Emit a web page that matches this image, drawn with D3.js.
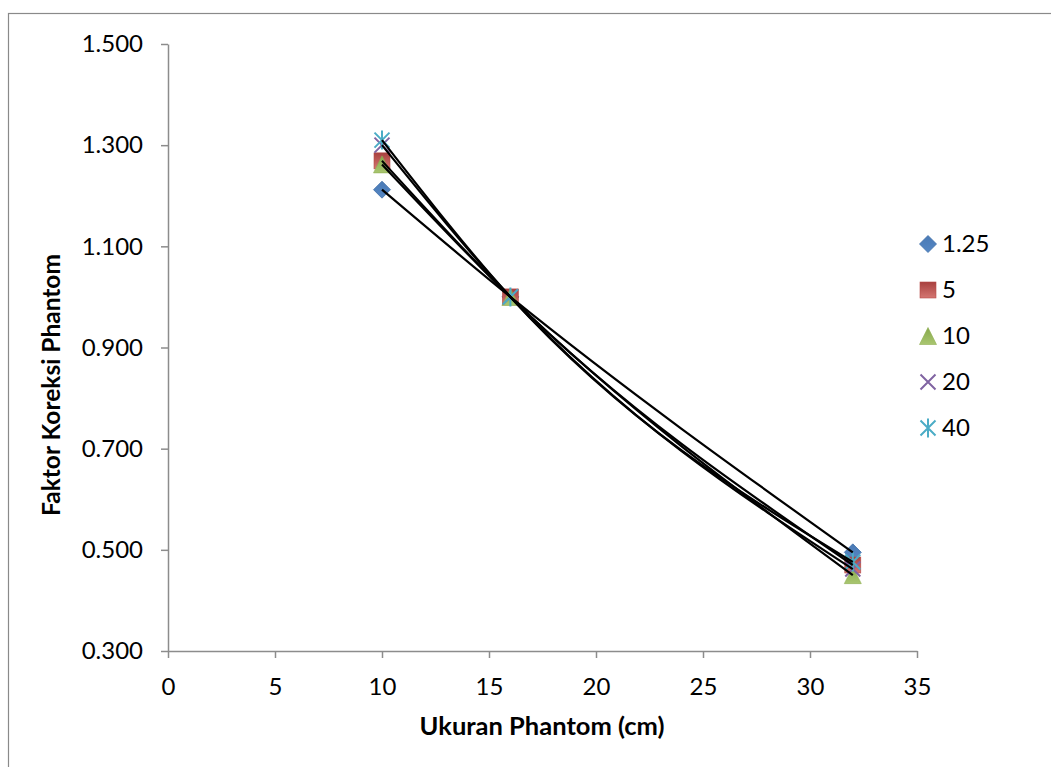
<!DOCTYPE html>
<html><head><meta charset="utf-8">
<script src="https://cdn.jsdelivr.net/npm/d3@7"></script>
<style>
body{margin:0;background:#fff}
svg{display:block}
text{font-family:Lato,'Open Sans',sans-serif;fill:#000}
</style>
</head><body>
<svg id="chart" width="1051" height="767"></svg>
<script>
// ---- data ----
const xValues = [10, 16, 32];
const seriesNames = ["1.25", "5", "10", "20", "40"];
const s125 = [1.212, 1.000, 0.495];
const s5   = [1.269, 1.000, 0.470];
const s10  = [1.262, 1.000, 0.450];
const s20  = [1.300, 1.000, 0.462];
const s40  = [1.310, 1.000, 0.476];
const yTicks = [0.3, 0.5, 0.7, 0.9, 1.1, 1.3, 1.5];
const xTicks = [0, 5, 10, 15, 20, 25, 30, 35];
const xTitle = "Ukuran Phantom (cm)";
const yTitle = "Faktor Koreksi Phantom";

const seriesValues = [s125, s5, s10, s20, s40];
const markerTypes = ["diamond", "square", "triangle", "x", "star"];
const colors = ["#4F81BD", "#C0504D", "#9BBB59", "#8064A2", "#4BACC6"];

const svg = d3.select("#chart");
const defs = svg.append("defs");
function grad(id, c1, c2) {
  const g = defs.append("linearGradient").attr("id", id).attr("x1", 0).attr("y1", 0).attr("x2", 0).attr("y2", 1);
  g.append("stop").attr("offset", "0%").attr("stop-color", c1);
  g.append("stop").attr("offset", "100%").attr("stop-color", c2);
}
grad("g0", "#4A7AB5", "#5587C4");
grad("g1", "#A8403E", "#D47672");
grad("g2", "#86A84A", "#A9C670");

// frame
svg.append("rect").attr("x", 8.5).attr("y", 13.5).attr("width", 1200).attr("height", 900)
  .attr("fill", "none").attr("stroke", "#8a8a8a").attr("stroke-width", 1.2);

const x = d3.scaleLinear().domain([0, 35]).range([168, 917]);
const y = d3.scaleLinear().domain([0.3, 1.5]).range([651, 44]);

const axisColor = "#8c8c8c";
const gy = svg.append("g").attr("transform", `translate(${x(0)},0)`)
  .call(d3.axisLeft(y).tickValues(yTicks).tickFormat(d3.format(".3f")).tickSize(7).tickSizeOuter(0).tickPadding(18));
const gx = svg.append("g").attr("transform", `translate(0,${y(0.3)})`)
  .call(d3.axisBottom(x).tickValues(xTicks).tickFormat(d3.format("d")).tickSize(7).tickSizeOuter(0).tickPadding(20));
[gx, gy].forEach(g => {
  g.select(".domain").attr("stroke", axisColor).attr("stroke-width", 1.5);
  g.selectAll(".tick line").attr("stroke", axisColor).attr("stroke-width", 1.5);
  g.selectAll(".tick text").style("font-size", "24px").style("font-family", "Lato,'Open Sans',sans-serif").attr("fill", "#000");
});

// axis titles
svg.append("text").attr("x", 542).attr("y", 726).attr("dy", "0.35em")
  .attr("text-anchor", "middle").style("font-size", "25.5px").style("font-weight", "bold").text(xTitle);
svg.append("text").attr("transform", "translate(51,385) rotate(-90)").attr("dy", "0.35em")
  .attr("text-anchor", "middle").style("font-size", "24.5px").style("font-weight", "bold").text(yTitle);

// marker drawing
function drawMarker(g, type, i, cx, cy) {
  const c = colors[i];
  if (type === "diamond") {
    const r = 8.5;
    g.append("path").attr("d", `M${cx},${cy - r}L${cx + r},${cy}L${cx},${cy + r}L${cx - r},${cy}Z`)
      .attr("fill", "url(#g0)").attr("stroke", "#3F6FA8").attr("stroke-width", 0.8);
  } else if (type === "square") {
    const r = 8;
    g.append("rect").attr("x", cx - r).attr("y", cy - r).attr("width", 2 * r).attr("height", 2 * r)
      .attr("fill", "url(#g1)").attr("stroke", "#B54A47").attr("stroke-width", 0.6);
  } else if (type === "triangle") {
    const r = 8.5;
    g.append("path").attr("d", `M${cx},${cy - r}L${cx + r},${cy + r}L${cx - r},${cy + r}Z`)
      .attr("fill", "url(#g2)").attr("stroke", "#8EAE50").attr("stroke-width", 0.6);
  } else if (type === "x") {
    const r = 7.5;
    g.append("path").attr("d", `M${cx - r},${cy - r}L${cx + r},${cy + r}M${cx + r},${cy - r}L${cx - r},${cy + r}`)
      .attr("stroke", c).attr("stroke-width", 2).attr("fill", "none");
  } else {
    const r = 7.5;
    g.append("path").attr("d", `M${cx - r},${cy - r}L${cx + r},${cy + r}M${cx + r},${cy - r}L${cx - r},${cy + r}M${cx},${cy - r - 2}L${cx},${cy + r + 2}`)
      .attr("stroke", c).attr("stroke-width", 2).attr("fill", "none");
  }
}

// markers
const mg = svg.append("g");
seriesValues.forEach((vals, i) => {
  vals.forEach((v, j) => drawMarker(mg, markerTypes[i], i, x(xValues[j]), y(v)));
});

// smoothed lines (on top)
const line = d3.line().x(d => x(d[0])).y(d => y(d[1])).curve(d3.curveMonotoneX);
const lg = svg.append("g");
seriesValues.forEach((vals) => {
  lg.append("path").attr("d", line(vals.map((v, j) => [xValues[j], v])))
    .attr("fill", "none").attr("stroke", "#000").attr("stroke-width", 2.2);
});

// legend
const leg = svg.append("g");
seriesNames.forEach((name, i) => {
  const ly = 244 + i * 46;
  drawMarker(leg, markerTypes[i], i, 928, ly);
  leg.append("text").attr("x", 942).attr("y", ly).attr("dy", "0.35em")
    .style("font-size", "24px").text(name);
});
</script>
</body></html>
